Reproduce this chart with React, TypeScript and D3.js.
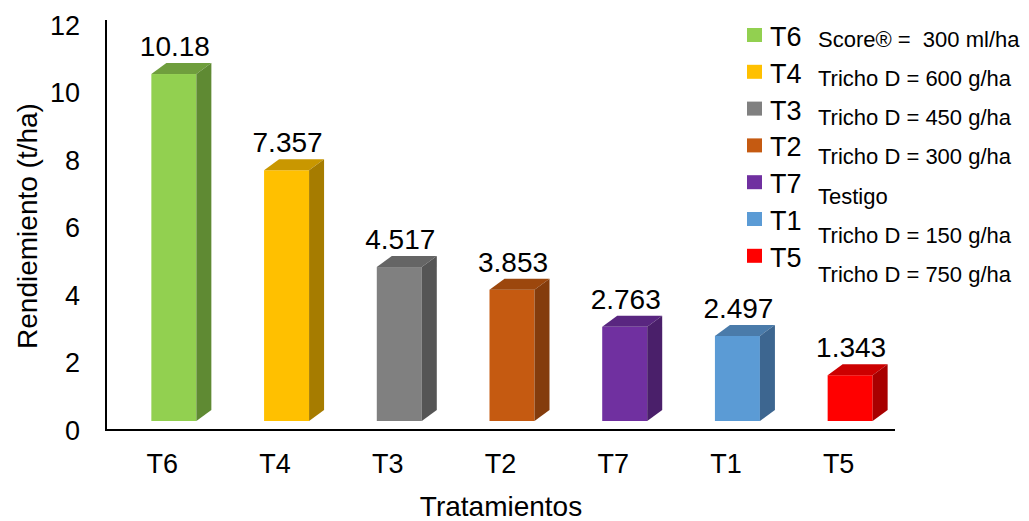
import React from "react";
import * as d3 from "d3";

// Treatments, sorted by yield
const categories = ["T6", "T4", "T3", "T2", "T7", "T1", "T5"];
const yields = [10.18, 7.357, 4.517, 3.853, 2.763, 2.497, 1.343];
const descriptions = [
  "Score® =  300 ml/ha",
  "Tricho D = 600 g/ha",
  "Tricho D = 450 g/ha",
  "Tricho D = 300 g/ha",
  "Testigo",
  "Tricho D = 150 g/ha",
  "Tricho D = 750 g/ha",
];
const yTicks = [0, 2, 4, 6, 8, 10, 12];

// front / top / side shades per treatment
const frontColors = ["#92D050", "#FFC000", "#808080", "#C55A11", "#7030A0", "#5B9BD5", "#FF0000"];
const topColors = ["#6F9E3D", "#C99700", "#656565", "#9C470D", "#592680", "#4A7BAA", "#CC0000"];
const sideColors = ["#5F8A33", "#A67C00", "#555555", "#843C0C", "#4A1F6A", "#3D6690", "#A80000"];

const FONT = "'Liberation Sans', Arial, sans-serif";

export default function App() {
  const width = 1029;
  const height = 521;

  const plotLeft = 106;
  const plotRight = 895;
  const axisY = 430;

  // axis scale (tick labels)
  const y = d3.scaleLinear().domain([0, 12]).range([axisY, 25]);
  // bar front-face scale (front face sits slightly forward of the floor)
  const yBar = d3.scaleLinear().domain([0, 12]).range([421, 12]);
  const x = d3.scaleBand<string>().domain(categories).range([plotLeft, plotRight]);

  const frontW = 45;
  const depthX = 15;
  const depthY = 11;

  return (
    <div style={{ position: "fixed", left: 0, top: 0, width, height, overflow: "hidden" }}>
      <svg width={width} height={height} style={{ display: "block", fontFamily: FONT }}>
        <rect width={width} height={height} fill="#fff" />

        {/* bars */}
        {categories.map((c, i) => {
          const cx = (x(c) as number) + x.bandwidth() / 2;
          const x0 = cx - 11;
          const x1 = x0 + frontW;
          const yt = yBar(yields[i]);
          const yb = yBar(0);
          const top = `M${x0},${yt} L${x0 + depthX},${yt - depthY} L${x1 + depthX},${yt - depthY} L${x1},${yt} Z`;
          const side = `M${x1},${yt} L${x1 + depthX},${yt - depthY} L${x1 + depthX},${yb - depthY} L${x1},${yb} Z`;
          return (
            <g key={c}>
              <rect x={x0} y={yt} width={frontW} height={yb - yt} fill={frontColors[i]} />
              <path d={top} fill={topColors[i]} />
              <path d={side} fill={sideColors[i]} />
              <text
                x={x0 + frontW / 2 + 1}
                y={yt - 18}
                textAnchor="middle"
                fontSize={28}
                fill="#000"
              >
                {String(yields[i])}
              </text>
            </g>
          );
        })}

        {/* axes */}
        <line x1={plotLeft} x2={plotLeft} y1={20} y2={axisY + 1} stroke="#000" strokeWidth={2} />
        <line x1={plotLeft - 1} x2={plotRight} y1={axisY} y2={axisY} stroke="#000" strokeWidth={2} />

        {yTicks.map((t) => (
          <text key={t} x={80} y={y(t)} dy="0.36em" textAnchor="end" fontSize={27} fill="#000">
            {t}
          </text>
        ))}

        {categories.map((c) => (
          <text
            key={c}
            x={(x(c) as number) + x.bandwidth() / 2}
            y={473}
            textAnchor="middle"
            fontSize={27}
            fill="#000"
          >
            {c}
          </text>
        ))}

        <text x={501} y={516} textAnchor="middle" fontSize={28} fill="#000">
          Tratamientos
        </text>
        <text transform="translate(37,226) rotate(-90)" textAnchor="middle" fontSize={28} fill="#000">
          Rendiemiento (t/ha)
        </text>

        {/* legend */}
        {categories.map((c, i) => {
          const base = 46 + i * 36.8;
          return (
            <g key={c}>
              <rect x={747} y={base - 18} width={15} height={14} fill={frontColors[i]} />
              <text x={770} y={base} fontSize={27} fill="#000">
                {c}
              </text>
            </g>
          );
        })}
        {descriptions.map((d, i) => (
          <text
            key={i}
            x={818}
            y={46.7 + i * 39.2}
            fontSize={22}
            fill="#000"
            style={{ whiteSpace: "pre" }}
          >
            {d}
          </text>
        ))}
      </svg>
    </div>
  );
}
